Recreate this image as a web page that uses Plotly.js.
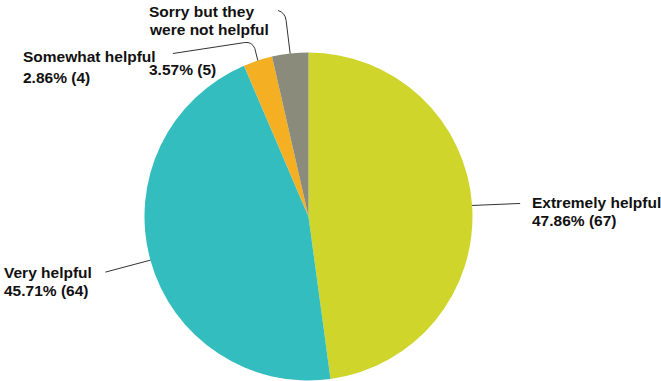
<!DOCTYPE html>
<html>
<head>
<meta charset="utf-8">
<script src="https://cdn.plot.ly/plotly-3.0.1.min.js"></script>
<style>html,body{margin:0;padding:0;background:#fff;}#chart{width:661px;height:381px;}</style>
</head>
<body>
<div id="chart"></div>
<script>
// ---- data ----
const categories = ["Extremely helpful", "Very helpful", "Somewhat helpful", "Sorry but they were not helpful"];
const labelLines = [["Extremely helpful"], ["Very helpful"], ["Somewhat helpful"], ["Sorry but they", "were not helpful"]];
const counts = [67, 64, 4, 5];
const colors = ["#cfd52b", "#34bdbf", "#f5af22", "#8b8b7b"];

// ---- layout geometry (pixels) ----
const W = 661, H = 381;
const CX = 308.5, CY = 216.5, R = 164;
const FONT = {family: "Arial, 'Liberation Sans', sans-serif", size: 15.5, color: "#111", weight: 700};
const px = x => x / W;
const py = y => 1 - y / H;

const total = counts.reduce((a, b) => a + b, 0);
const pct = counts.map(c => (100 * c / total).toFixed(2) + "%");

// anchor on the rim at each slice's mid angle (clockwise from 12 o'clock)
let cum = 0;
const anchors = counts.map(c => {
  const mid = (cum + c / 2) / total * 2 * Math.PI;
  cum += c;
  return [CX + R * Math.sin(mid), CY - R * Math.cos(mid)];
});

// per-line centre positions for each label block: x left, y of each line's middle
const labelPos = [
  {x: 530.5, ys: [202.3, 220.5]},
  {x: 2.5, ys: [272.5, 290]},
  {x: 22, ys: [57, 77]},
  {x: 147.5, ys: [12, 29.2, 69.8]}
];

// leader paths relative to anchor
function leader(i) {
  const [ax, ay] = anchors[i];
  const f = (x, y) => `${px(x)},${py(y)}`;
  if (i === 0) return `M ${f(ax, ay)} L ${f(ax + 48, ay - 2)}`;
  if (i === 1) return `M ${f(ax, ay)} L ${f(ax - 45, ay + 12)}`;
  if (i === 2) return `M ${f(ax, ay)} L ${f(ax - 3, ay - 12)} Q ${f(ax - 6, ay - 19)} ${f(ax - 13, ay - 18)} L ${f(ax - 85, ay - 7)}`;
  return `M ${f(ax, ay)} L ${f(ax - 4, ay - 33)} Q ${f(ax - 5, ay - 41)} ${f(ax - 12, ay - 43)}`;
}

const annotations = [];
counts.forEach((c, i) => {
  const lines = labelLines[i].concat([pct[i] + " (" + c + ")"]);
  lines.forEach((t, j) => {
    annotations.push({
      xref: "paper", yref: "paper", x: px(labelPos[i].x), y: py(labelPos[i].ys[j]),
      xanchor: "left", yanchor: "middle", align: "left", showarrow: false,
      text: "<b>" + t + "</b>", font: FONT, borderpad: 0
    });
  });
});

const shapes = counts.map((c, i) => ({
  type: "path", xref: "paper", yref: "paper", path: leader(i),
  line: {color: "#333", width: 1}
}));

const trace = {
  type: "pie",
  labels: categories,
  values: counts,
  sort: false,
  direction: "clockwise",
  rotation: 0,
  textinfo: "none",
  hoverinfo: "label+value+percent",
  marker: {colors: colors, line: {width: 0}},
  domain: {x: [px(CX - R), px(CX + R)], y: [py(CY + R), py(CY - R)]},
  showlegend: false
};

Plotly.newPlot("chart", [trace], {
  width: W, height: H,
  margin: {l: 0, r: 0, t: 0, b: 0},
  paper_bgcolor: "#fff",
  showlegend: false,
  annotations: annotations,
  shapes: shapes
}, {displayModeBar: false, staticPlot: true});
</script>
</body>
</html>
